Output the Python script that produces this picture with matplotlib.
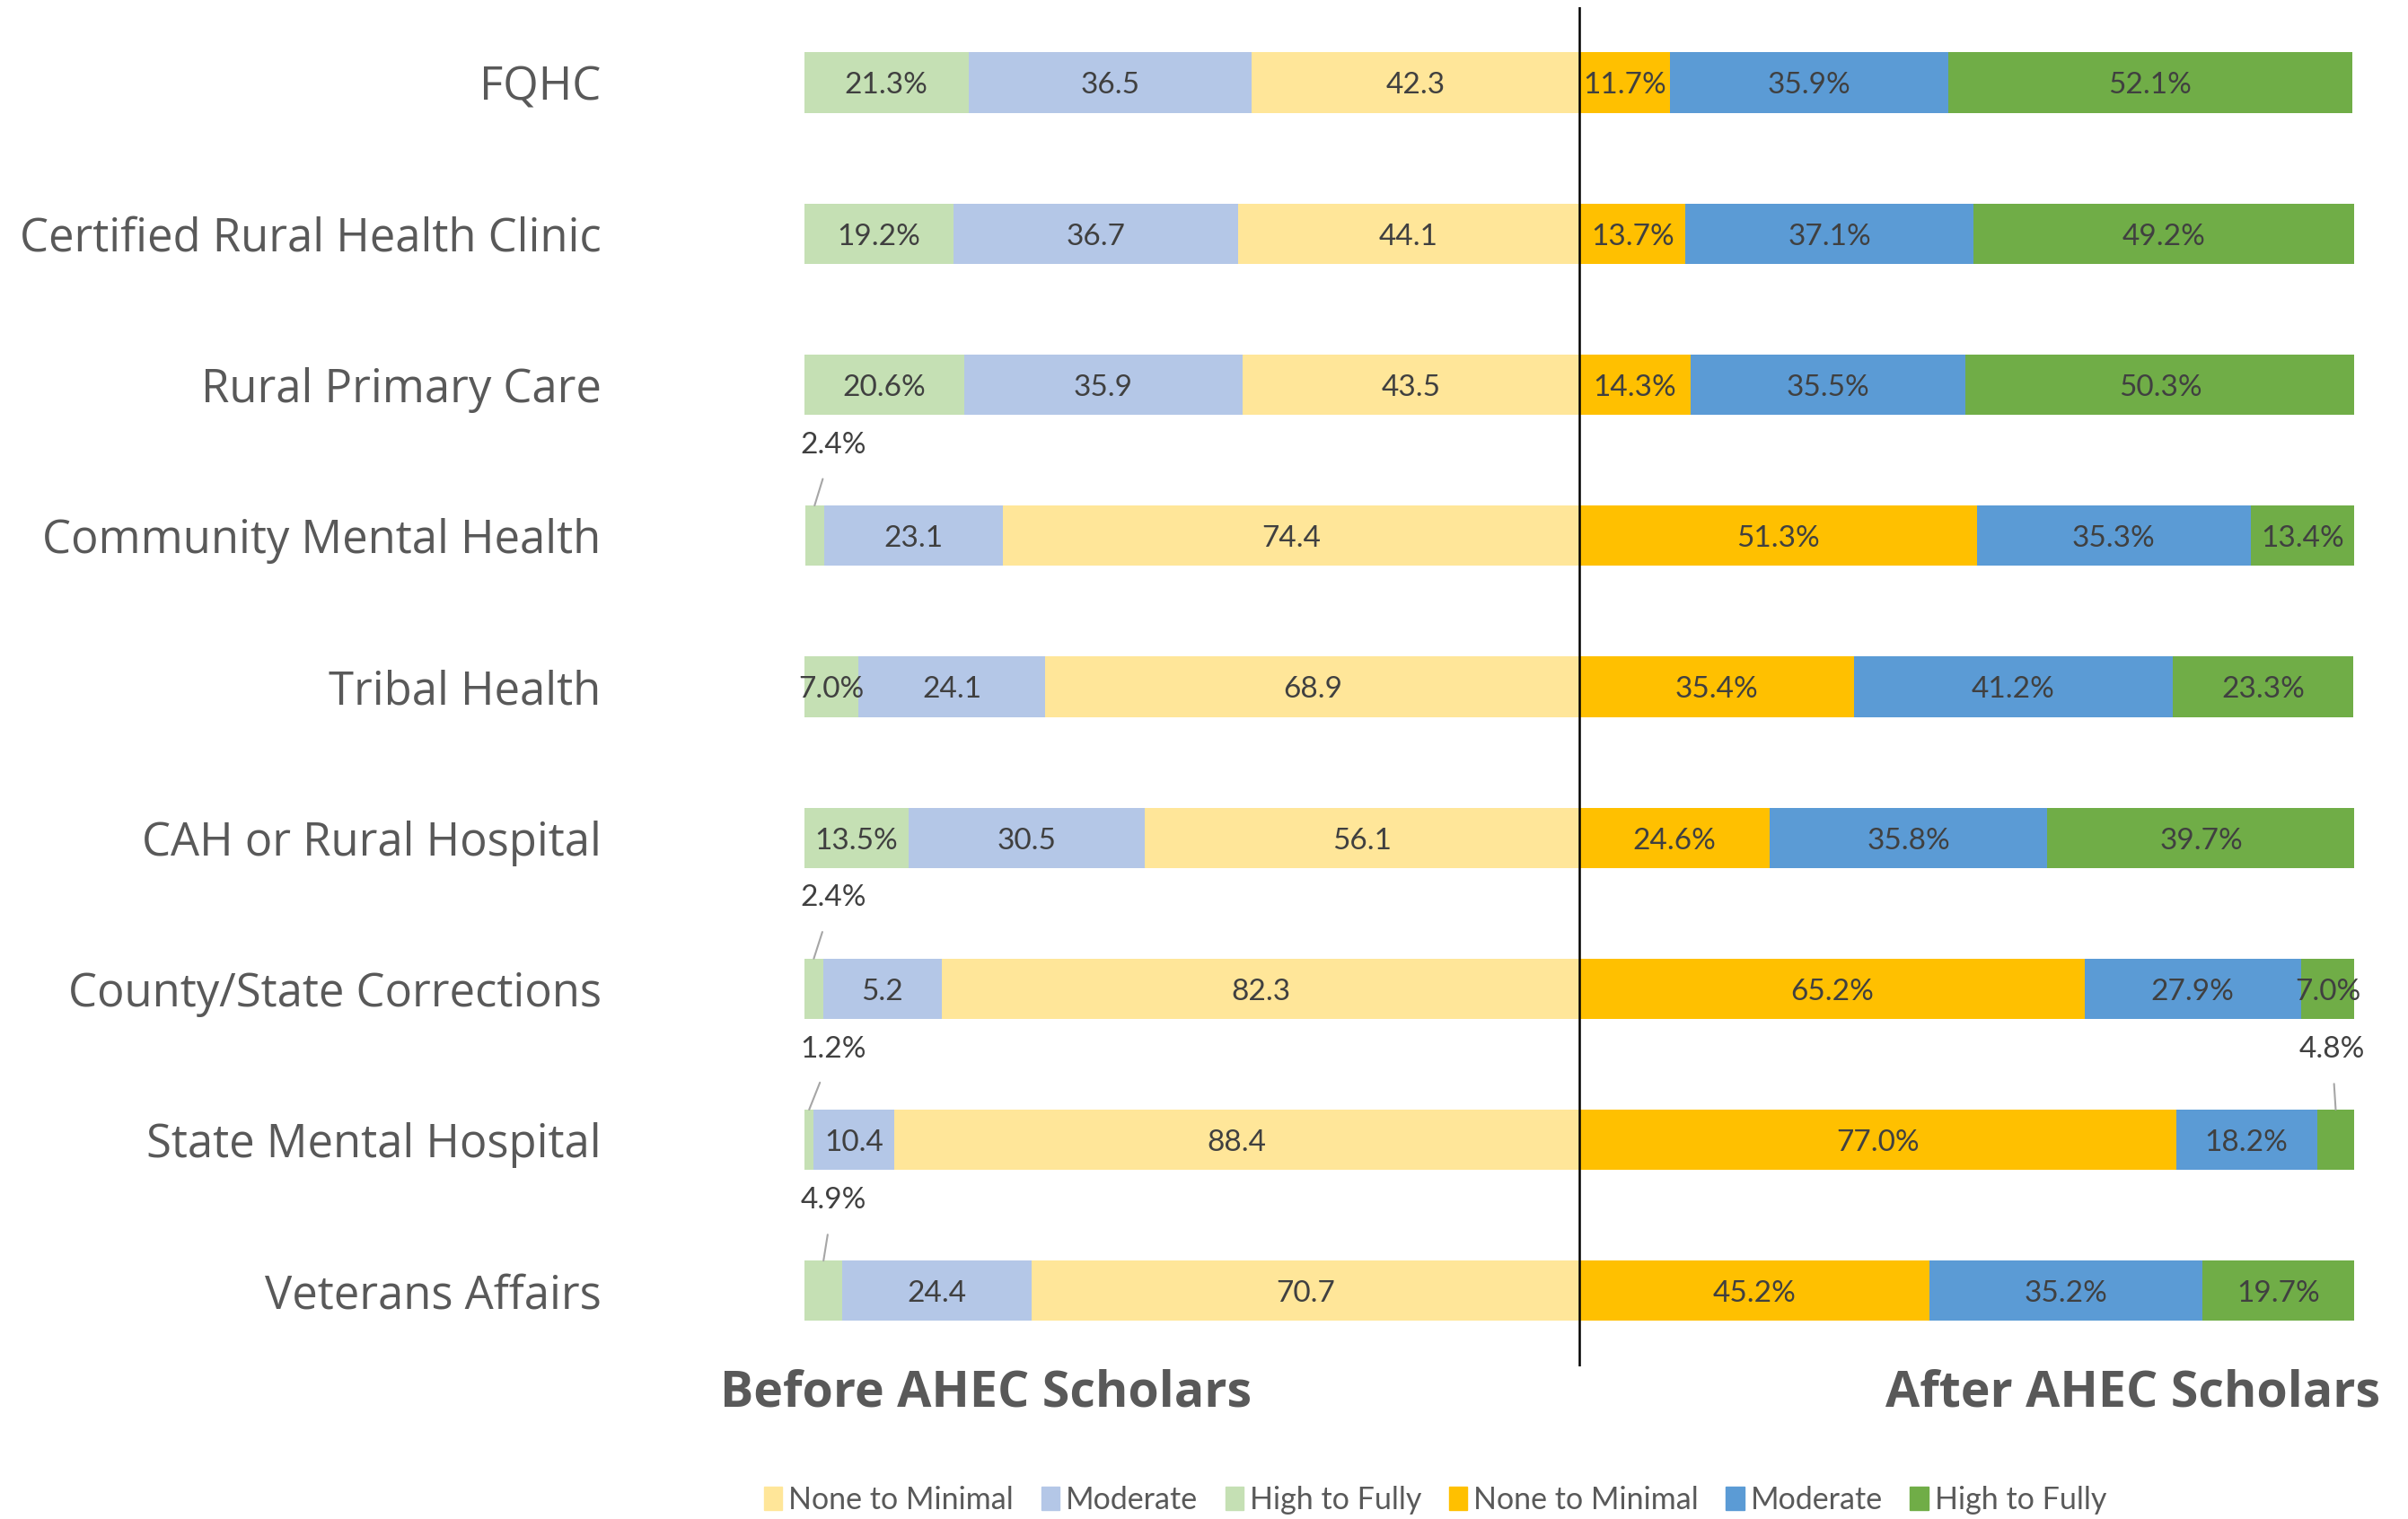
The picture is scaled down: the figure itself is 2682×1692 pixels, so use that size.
import matplotlib.pyplot as plt
from matplotlib.patches import Patch

# settings / categories
categories = ["FQHC", "Certified Rural Health Clinic", "Rural Primary Care",
              "Community Mental Health", "Tribal Health", "CAH or Rural Hospital",
              "County/State Corrections", "State Mental Hospital", "Veterans Affairs"]

# before AHEC Scholars (segment widths as drawn)
before_high = [21.3, 19.2, 20.6, 2.4, 7.0, 13.5, 2.4, 1.2, 4.9]
before_moderate = [36.5, 36.7, 35.9, 23.1, 24.1, 30.5, 15.3, 10.4, 24.4]
before_none = [42.3, 44.1, 43.5, 74.4, 68.9, 56.1, 82.3, 88.4, 70.7]
# labels printed on the before bars
before_high_labels = ["21.3%", "19.2%", "20.6%", "2.4%", "7.0%", "13.5%", "2.4%", "1.2%", "4.9%"]
before_moderate_labels = ["36.5", "36.7", "35.9", "23.1", "24.1", "30.5", "5.2", "10.4", "24.4"]
before_none_labels = ["42.3", "44.1", "43.5", "74.4", "68.9", "56.1", "82.3", "88.4", "70.7"]

# after AHEC Scholars
after_none = [11.7, 13.7, 14.3, 51.3, 35.4, 24.6, 65.2, 77.0, 45.2]
after_moderate = [35.9, 37.1, 35.5, 35.3, 41.2, 35.8, 27.9, 18.2, 35.2]
after_high = [52.1, 49.2, 50.3, 13.4, 23.3, 39.7, 7.0, 4.8, 19.7]

c_none_b, c_mod_b, c_high_b = "#FFE699", "#B4C7E7", "#C5E0B4"
c_none_a, c_mod_a, c_high_a = "#FFC000", "#5B9BD5", "#70AD47"
txt = "#404040"
lab_font = ["Lato", "DejaVu Sans"]
fs = 24

fig = plt.figure(figsize=(26.82, 16.92), dpi=100)
ax = fig.add_axes([0.3341, 0.1005, 0.6436, 0.8948])

rows = list(range(len(categories)))
h = 0.40
dy = 0.02  # labels sit a touch below the bar centre

for i in rows:
    n, m, hi = before_none[i], before_moderate[i], before_high[i]
    ax.barh(i, -n, left=0, height=h, color=c_none_b)
    ax.barh(i, -m, left=-n, height=h, color=c_mod_b)
    ax.barh(i, -hi, left=-n - m, height=h, color=c_high_b)
    ax.text(-n / 2, i + dy, before_none_labels[i], ha="center", va="center", fontsize=fs, color=txt, family=lab_font)
    ax.text(-n - m / 2, i + dy, before_moderate_labels[i], ha="center", va="center", fontsize=fs, color=txt, family=lab_font)
    hc = -n - m - hi / 2
    if hi < 6:
        ax.annotate(before_high_labels[i], xy=(hc, i - h / 2), xytext=(-96.3, i - 0.6),
                    ha="center", va="center", fontsize=fs, color=txt, family=lab_font,
                    arrowprops=dict(arrowstyle="-", color="#A6A6A6", lw=1.5, shrinkA=15, shrinkB=0))
    else:
        ax.text(hc, i + dy, before_high_labels[i], ha="center", va="center", fontsize=fs, color=txt, family=lab_font)

    n, m, hi = after_none[i], after_moderate[i], after_high[i]
    ax.barh(i, n, left=0, height=h, color=c_none_a)
    ax.barh(i, m, left=n, height=h, color=c_mod_a)
    ax.barh(i, hi, left=n + m, height=h, color=c_high_a)
    ax.text(n / 2, i + dy, f"{n:.1f}%", ha="center", va="center", fontsize=fs, color=txt, family=lab_font)
    ax.text(n + m / 2, i + dy, f"{m:.1f}%", ha="center", va="center", fontsize=fs, color=txt, family=lab_font)
    hc = n + m + hi / 2
    if hi < 6:
        ax.annotate(f"{hi:.1f}%", xy=(hc, i - h / 2), xytext=(97.1, i - 0.6),
                    ha="center", va="center", fontsize=fs, color=txt, family=lab_font,
                    arrowprops=dict(arrowstyle="-", color="#A6A6A6", lw=1.5, shrinkA=15, shrinkB=0))
    else:
        ax.text(hc, i + dy, f"{hi:.1f}%", ha="center", va="center", fontsize=fs, color=txt, family=lab_font)

ax.axvline(0, color="black", lw=1.8)
ax.set_xlim(-100, 100)
ax.set_ylim(8.5, -0.5)
ax.set_yticks(rows)
ax.set_yticklabels(categories, fontsize=36.5, color="#595959", family="Open Sans")
ax.tick_params(axis="y", length=0, pad=163)
ax.set_xticks([])
for s in ax.spines.values():
    s.set_visible(False)

fig.text(0.4094, 0.083, "Before AHEC Scholars", ha="center", va="center",
         fontsize=40, fontweight="bold", color="#595959", family="Open Sans")
fig.text(0.8859, 0.083, "After AHEC Scholars", ha="center", va="center",
         fontsize=40, fontweight="bold", color="#595959", family="Open Sans")

handles = [Patch(color=c) for c in [c_none_b, c_mod_b, c_high_b, c_none_a, c_mod_a, c_high_a]]
names = ["None to Minimal", "Moderate", "High to Fully", "None to Minimal", "Moderate", "High to Fully"]
fig.legend(handles, names, loc="center", bbox_to_anchor=(0.596, 0.0124), ncol=6, frameon=False,
           prop={"family": "Lato", "size": 24.5}, labelcolor="#595959",
           handlelength=0.6, handleheight=0.8, handletextpad=0.2, columnspacing=0.9)

fig.savefig("out.png", dpi=100, facecolor="white")
